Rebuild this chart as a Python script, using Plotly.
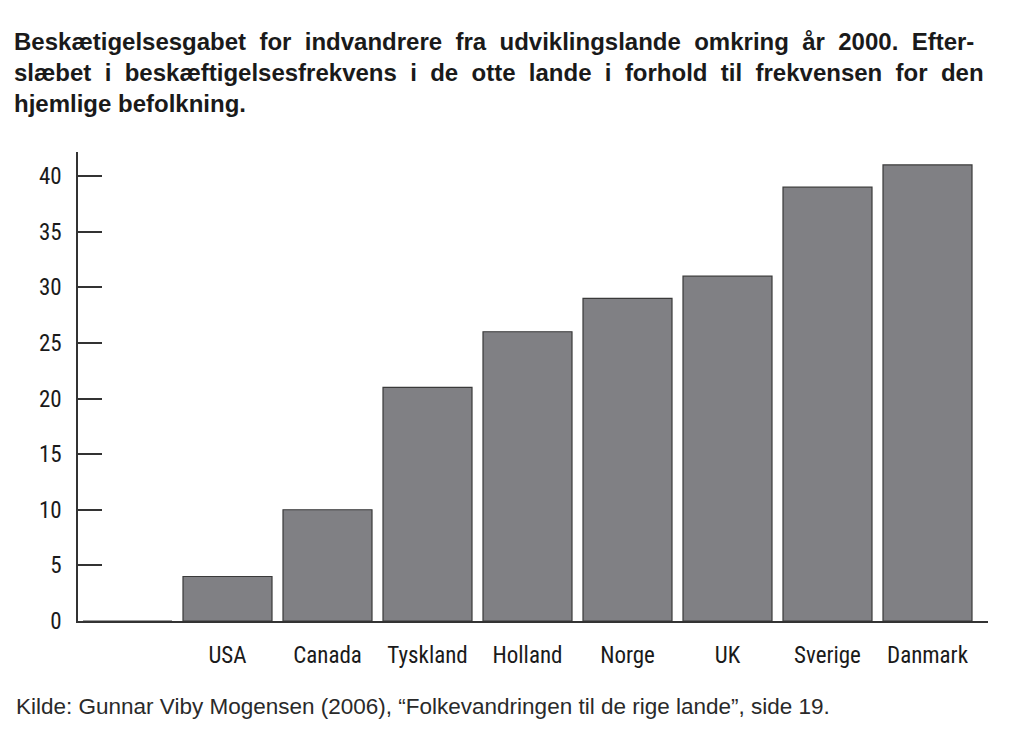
import plotly.graph_objects as go

categories = ["", "USA", "Canada", "Tyskland", "Holland", "Norge", "UK", "Sverige", "Danmark"]
values = [0, 4, 10, 21, 26, 29, 31, 39, 41]
y_ticks = [0, 5, 10, 15, 20, 25, 30, 35, 40]

title_lines = [
    "Beskætigelsesgabet for indvandrere fra udviklingslande omkring år 2000. Efter-",
    "slæbet i beskæftigelsesfrekvens i de otte lande i forhold til frekvensen for den",
    "hjemlige befolkning.",
]
source_text = "Kilde: Gunnar Viby Mogensen (2006), “Folkevandringen til de rige lande”, side 19."

# approximate justified text for the first two lines by widening word gaps
title_html = "<br>".join(
    [ln.replace(" ", " \u00a0") for ln in title_lines[:2]] + [title_lines[2]]
)

xs = list(range(len(categories)))

W, H = 1024, 735
L, R, T, B = 78, 36, 152, 114

fig = go.Figure()
fig.add_trace(go.Bar(
    x=xs, y=values, width=0.89,
    marker=dict(color="#808084", line=dict(color="#3a3a3a", width=1.2)),
    hoverinfo="skip",
))

fig.update_layout(
    width=W, height=H,
    margin=dict(l=L, r=R, t=T, b=B),
    paper_bgcolor="white", plot_bgcolor="white",
    showlegend=False,
    title=dict(text="<b>" + title_html + "</b>", xref="container", yref="container",
               x=14 / W, xanchor="left", y=1 - 50 / H, yanchor="top",
               font=dict(family="Liberation Sans, Arial, sans-serif", size=24, color="#1a1a1a")),
    font=dict(family="Liberation Sans Narrow, Roboto Condensed, Liberation Sans, sans-serif", color="#1a1a1a"),
)

tickfont = dict(size=23, family="Liberation Sans Narrow, Roboto Condensed, sans-serif", color="#1a1a1a")

fig.update_xaxes(
    range=[-0.495, 8.605],
    tickmode="array", tickvals=xs, ticktext=categories,
    showgrid=False, zeroline=False,
    showline=True, linecolor="#333333", linewidth=1.5,
    ticks="", ticklabelstandoff=13,
    tickfont=tickfont,
)
fig.update_yaxes(
    range=[0, 42.16],
    tickmode="array", tickvals=y_ticks,
    showgrid=False, zeroline=False,
    showline=True, linecolor="#333333", linewidth=1.5,
    ticks="inside", ticklen=24, tickwidth=1.5, tickcolor="#333333",
    ticklabelstandoff=10,
    tickfont=tickfont,
)

fig.add_annotation(
    text=source_text, xref="paper", yref="paper",
    x=(14 - L) / (W - L - R), y=-(706 - (H - B)) / (H - T - B),
    xanchor="left", yanchor="middle", showarrow=False,
    font=dict(family="Liberation Sans, Arial, sans-serif", size=22.5, color="#2a2a2a"),
)

fig.write_html("out.html", config={"displayModeBar": False},
               post_script="document.body.style.margin='0';")
